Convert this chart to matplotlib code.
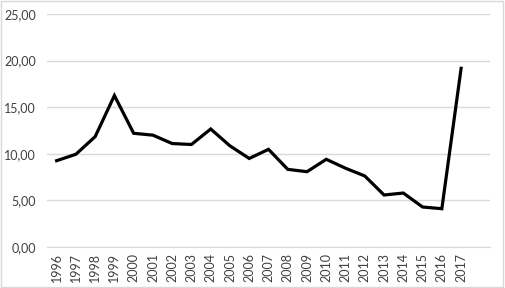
import numpy as np
import matplotlib.pyplot as plt
from matplotlib.patches import Rectangle

years = [str(y) for y in range(1996, 2018)] + ['']
values = [9.26, 9.95, 11.84, 16.25, 12.2, 12.0, 11.1, 11.0, 12.66, 10.85,
          9.5, 10.48, 8.33, 8.08, 9.41, 8.45, 7.62, 5.58, 5.79, 4.29, 4.11, 19.17]

plt.rcParams['font.family'] = ['Lato', 'DejaVu Sans']

fig = plt.figure(figsize=(5.05, 2.88), dpi=100)
ax = fig.add_axes([47 / 505, 1 - 247 / 288, (490 - 47) / 505, (247 - 14) / 288])

x = np.arange(len(values))
ax.plot(x, values, color='black', lw=2.3, solid_joinstyle='miter')

ax.set_xlim(-0.5, len(years) - 0.5)
ax.set_ylim(0, 25)
ax.set_yticks(np.arange(0, 26, 5))
ax.set_yticklabels([f'{v:.2f}'.replace('.', ',') for v in np.arange(0, 26, 5)],
                   fontsize=9, color='#404040')
ax.set_xticks(np.arange(len(years)))
ax.set_xticklabels(years, rotation=90, fontsize=9, color='#404040')
ax.tick_params(axis='both', length=0, pad=8)
ax.tick_params(axis='x', pad=4)
ax.grid(axis='y', color='#d9d9d9', lw=1)
ax.set_axisbelow(True)
for s in ['top', 'right', 'left']:
    ax.spines[s].set_visible(False)
ax.spines['bottom'].set_color('#d9d9d9')

fig.patches.append(Rectangle((0.002, 0.003), 0.995, 0.994, transform=fig.transFigure,
                             fill=False, edgecolor='#d9d9d9', lw=1))

fig.savefig('out.png', dpi=100)
